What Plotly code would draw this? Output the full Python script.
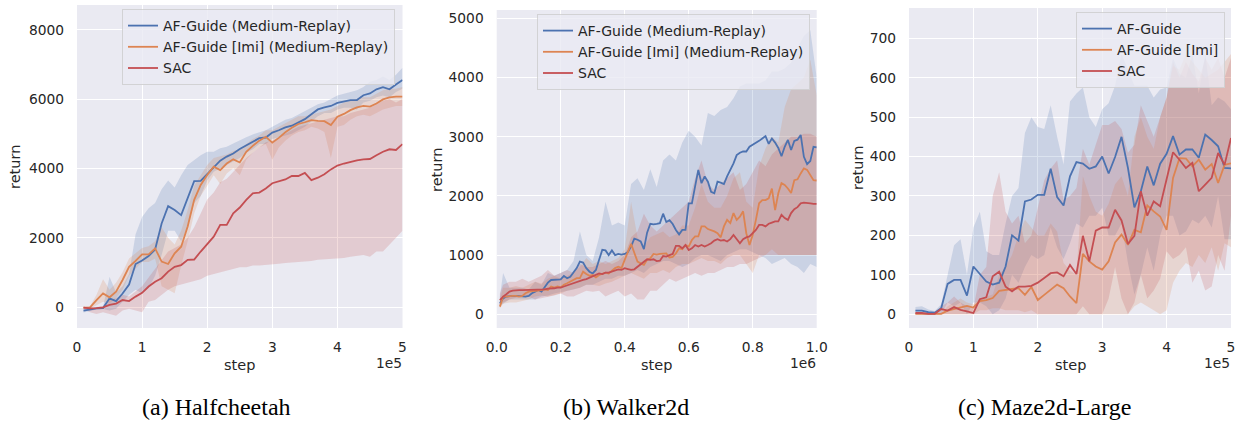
import numpy as np
import plotly.graph_objects as go

W, H = 1235, 421

# ---------------- data ----------------
labels_long = ["AF-Guide (Medium-Replay)", "AF-Guide [Imi] (Medium-Replay)", "SAC"]
labels_short = ["AF-Guide", "AF-Guide [Imi]", "SAC"]

# Halfcheetah: steps 1e4 .. 5e5
hc_x = [1e4 * i for i in range(1, 51)]
hc_blue = [-105, -70, -40, -30, 250, 170, 390, 650, 1240, 1340,
           1470, 1660, 2410, 2910, 2800, 2650, 3130, 3630, 3640, 3840,
           4050, 4220, 4340, 4430, 4560, 4670, 4770, 4870, 4890, 5030,
           5100, 5180, 5230, 5320, 5420, 5560, 5700, 5760, 5800, 5890,
           5940, 5970, 5970, 6110, 6160, 6280, 6340, 6280, 6420, 6550]
hc_orange = [-20, -10, 200, 390, 280, 440, 780, 1160, 1330, 1520,
             1520, 1690, 1310, 1240, 1550, 1740, 2320, 3090, 3520, 3810,
             4050, 3950, 4140, 4260, 4170, 4480, 4650, 4800, 4910, 4740,
             4880, 5040, 5170, 5280, 5330, 5390, 5370, 5360, 5250, 5490,
             5570, 5680, 5760, 5800, 5780, 5870, 5990, 6050, 6070, 6070]
hc_red = [-20, -40, -30, -10, 60, 100, 200, 170, 300, 410,
          590, 730, 830, 1020, 1160, 1210, 1360, 1370, 1600, 1820,
          2030, 2370, 2370, 2700, 2870, 3090, 3280, 3300, 3420, 3570,
          3620, 3680, 3780, 3780, 3870, 3660, 3730, 3830, 3970, 4080,
          4140, 4190, 4230, 4260, 4270, 4380, 4480, 4550, 4530, 4700]
hc_blue_hi = [-50, -40, -10, 0, 870, 420, 600, 950, 2100, 2600,
              2850, 3000, 3400, 3650, 3450, 3800, 4100, 4250, 4380, 4480,
              4480, 4580, 4620, 4720, 4820, 4900, 4980, 5050, 5100, 5200,
              5300, 5400, 5450, 5550, 5650, 5750, 5850, 5900, 6000, 6100,
              6150, 6200, 6250, 6350, 6500, 6550, 6650, 6550, 6700, 6900]
hc_blue_lo = [-160, -110, -70, -60, -100, -50, 150, 350, 500, 400,
              550, 900, 1500, 2200, 2200, 1900, 2300, 3000, 3200, 3650,
              3900, 4000, 4100, 4200, 4300, 4450, 4550, 4700, 4700, 4850,
              4900, 4950, 5000, 5100, 5200, 5350, 5500, 5600, 5600, 5700,
              5750, 5750, 5700, 5900, 5950, 6050, 6100, 6050, 6200, 6300]
hc_orange_hi = [0, 20, 350, 800, 500, 700, 1000, 1400, 1550, 1700,
                1750, 1900, 2300, 2000, 1800, 2200, 2800, 3500, 3800, 4100,
                4300, 4350, 4400, 4500, 4550, 4700, 4850, 4950, 5100, 5100,
                5200, 5300, 5400, 5500, 5500, 5550, 5600, 5650, 5700, 5800,
                5900, 5950, 6000, 6050, 6050, 6150, 6250, 6300, 6300, 6350]
hc_orange_lo = [-40, -40, 50, 150, 100, 250, 500, 900, 1100, 1300,
                1300, 1400, 600, 500, 400, 1200, 1900, 2700, 3200, 3500,
                3800, 3550, 3850, 4000, 3800, 4250, 4450, 4600, 4700, 4250,
                4600, 4800, 4950, 5050, 5100, 5200, 5150, 5050, 4300, 5200,
                5250, 5400, 5500, 5550, 5500, 5600, 5700, 5750, 5800, 5800]
hc_red_hi = [0, -10, 0, 20, 200, 250, 350, 300, 450, 600,
             850, 1100, 1350, 1600, 1700, 1800, 2000, 2300, 2700, 3100,
             3300, 3600, 3700, 3900, 4100, 4300, 4450, 4600, 4750, 4800,
             4900, 5000, 5100, 5200, 5250, 5300, 5350, 5400, 5450, 5500,
             5500, 5600, 5650, 5700, 5750, 5850, 5950, 6000, 5900, 6000]
hc_red_lo = [-60, -150, -200, -150, -200, -250, -100, -50, -100, -150,
             150, 200, 350, 500, 600, 650, 700, 750, 800, 900,
             950, 1000, 1050, 1100, 1150, 1150, 1200, 1200, 1220, 1230,
             1250, 1270, 1280, 1300, 1320, 1330, 1360, 1380, 1400, 1400,
             1410, 1450, 1480, 1500, 1450, 1600, 1600, 1800, 2000, 2200]

# Walker2d: steps 1e4 .. 1e6 (means), band points at 1e4, 2e4, 4e4 ... 1e6
wk_x = [1e4 * i for i in range(1, 101)]
wk_bx = [1e4] + [2e4 * i for i in range(1, 51)]
wk_blue = [185, 270, 300, 310, 310, 310, 305, 305, 300, 310,
           355, 383, 410, 383, 470, 535, 580, 580, 590, 590,
           650, 610, 635, 705, 780, 890, 875, 780, 720, 690,
           750, 920, 1090, 1080, 1000, 1080, 1000, 1020, 1010, 1020,
           1050, 1150, 1280, 1260, 1230, 1100, 1380, 1530, 1520, 1527,
           1540, 1700, 1560, 1590, 1525, 1425, 1350, 1425, 1425, 1875,
           1875, 2160, 2440, 2215, 2330, 2240, 2070, 2045, 2240, 2225,
           2200, 2330, 2440, 2550, 2690, 2730, 2750, 2750, 2830, 2860,
           2890, 2930, 2970, 3010, 2880, 2970, 2900, 2810, 2670, 2830,
           2945, 2775, 2930, 2950, 3030, 2660, 2535, 2590, 2830, 2820]
wk_orange = [130, 300, 300, 310, 310, 310, 300, 310, 355, 383,
             395, 395, 400, 410, 420, 410, 470, 450, 470, 455,
             500, 525, 550, 580, 610, 610, 720, 680, 650, 665,
             625, 665, 690, 705, 690, 740, 780, 805, 780, 920,
             1060, 1190, 1040, 890, 860, 835, 920, 945, 1020, 1010,
             1020, 1030, 1030, 960, 970, 1030, 1115, 1100, 1170, 1145,
             1255, 1315, 1315, 1485, 1485, 1440, 1425, 1400, 1370, 1300,
             1485, 1595, 1540, 1710, 1595, 1650, 1740, 1370, 1170, 1340,
             1595, 1875, 1930, 1930, 1960, 2125, 1760, 2045, 2215, 2185,
             2125, 2050, 2265, 2280, 2380, 2465, 2440, 2355, 2265, 2260]
wk_red = [240, 300, 340, 383, 400, 410, 410, 410, 410, 410,
          410, 420, 420, 420, 420, 435, 435, 440, 450, 450,
          470, 490, 505, 525, 550, 565, 580, 595, 620, 650,
          665, 690, 680, 705, 705, 720, 740, 760, 750, 780,
          765, 750, 760, 805, 850, 890, 930, 920, 930, 900,
          905, 985, 975, 1000, 1020, 1155, 1155, 1115, 1170, 1085,
          1115, 1170, 1145, 1170, 1145, 1170, 1200, 1245, 1270, 1245,
          1255, 1230, 1270, 1340, 1270, 1200, 1270, 1300, 1315, 1370,
          1425, 1510, 1510, 1485, 1530, 1550, 1570, 1570, 1680, 1625,
          1595, 1710, 1775, 1810, 1875, 1885, 1885, 1875, 1865, 1865]
wk_blue_hi = [300, 700, 450, 450, 450, 420, 550, 500, 700, 650,
              700, 750, 900, 1400, 1000, 900, 1300, 1900, 1500, 1550,
              1500, 2200, 2300, 2100, 2450, 2150, 2600, 2700, 2600, 2900,
              3100, 3000, 2850, 3400, 3350, 3450, 3500, 3650, 3850, 3900,
              3900, 3900, 3950, 4100, 4100, 4150, 4250, 4500, 4700, 4800, 4000]
wk_blue_lo = [150, 180, 250, 250, 250, 250, 250, 300, 320, 350,
              380, 400, 420, 450, 500, 500, 550, 600, 600, 650,
              650, 700, 750, 700, 800, 850, 900, 900, 850, 800,
              850, 950, 1000, 1000, 950, 900, 1000, 1050, 1100, 1100,
              1050, 1000, 950, 850, 900, 950, 850, 800, 700, 850, 800]
wk_orange_hi = [250, 450, 450, 480, 450, 500, 550, 520, 600, 650,
                600, 650, 700, 800, 950, 850, 900, 850, 900, 950,
                1100, 1900, 1300, 1150, 1300, 1350, 1400, 1300, 1350, 1500,
                1500, 1800, 2200, 1900, 1800, 1800, 2000, 2300, 2400, 1900,
                1800, 2500, 2800, 3000, 2900, 3500, 3800, 3900, 4000, 4300, 3700]
wk_orange_lo = [100, 180, 200, 200, 220, 250, 300, 320, 300, 320,
                350, 400, 420, 450, 500, 500, 480, 520, 550, 600,
                650, 700, 650, 600, 700, 700, 750, 700, 800, 850,
                850, 900, 950, 900, 900, 850, 950, 1000, 1000, 850,
                700, 1000, 1000, 1100, 1000, 1000, 1000, 1000, 1000, 1000, 1000]
wk_red_hi = [350, 500, 550, 550, 600, 550, 600, 650, 750, 650,
             700, 750, 700, 850, 800, 800, 850, 900, 850, 900,
             1000, 1300, 1400, 1700, 1500, 1400, 1500, 1600, 1700, 1800,
             1900, 2300, 2600, 2200, 2100, 2200, 2300, 2400, 2100, 2200,
             2400, 2600, 2500, 2700, 2800, 2900, 3000, 3000, 3050, 3050, 3000]
wk_red_lo = [150, 200, 250, 280, 300, 300, 250, 280, 300, 320,
             350, 300, 300, 350, 400, 380, 400, 300, 350, 400,
             300, 350, 250, 250, 400, 400, 500, 600, 550, 600,
             650, 700, 650, 700, 700, 750, 800, 800, 850, 850,
             900, 950, 1000, 1000, 1000, 1000, 1000, 1000, 1000, 1000, 1000]

# Maze2d-Large: steps 1e4 .. 5e5
mz_x = [1e4 * i for i in range(1, 51)]
mz_blue = [9, 9, 5, 4, 15, 77, 87, 87, 47, 121,
           102, 83, 75, 80, 121, 200, 187, 286, 291, 303,
           303, 369, 297, 276, 350, 386, 382, 369, 375, 400,
           357, 399, 450, 371, 271, 312, 375, 327, 382, 407,
           452, 405, 418, 418, 397, 456, 442, 426, 371, 370]
mz_orange = [1, 1, 1, 1, 1, 9, 13, 18, 21, 17,
             33, 36, 41, 59, 62, 64, 66, 49, 69, 36,
             49, 62, 75, 66, 45, 28, 153, 134, 121, 113,
             134, 182, 202, 176, 214, 208, 276, 261, 248, 214,
             346, 396, 395, 375, 392, 367, 381, 333, 379, 383]
mz_red = [3, 3, 1, 1, 13, 9, 18, 11, 7, 3,
          38, 43, 96, 108, 70, 58, 70, 70, 72, 80,
          92, 104, 106, 96, 125, 102, 199, 134, 212, 220,
          220, 265, 238, 178, 199, 312, 250, 286, 274, 341,
          411, 392, 371, 384, 312, 329, 346, 409, 379, 447]
mz_blue_hi = [18, 20, 12, 8, 25, 100, 175, 190, 100, 220,
              260, 160, 150, 150, 230, 300, 320, 460, 500, 475,
              470, 530, 450, 380, 540, 560, 575, 500, 475, 520,
              535, 580, 660, 620, 580, 580, 580, 550, 570, 575,
              650, 610, 600, 660, 560, 660, 530, 550, 540, 520]
mz_blue_lo = [0, 0, 0, 0, 0, 30, 20, 30, 0, 30,
              30, 20, 0, 10, 40, 100, 80, 120, 150, 140,
              150, 220, 170, 140, 180, 230, 220, 250, 250, 270,
              200, 200, 230, 130, 50, 100, 170, 110, 200, 250,
              250, 200, 210, 240, 230, 250, 220, 300, 190, 190]
mz_orange_hi = [2, 2, 2, 2, 2, 20, 30, 40, 30, 25,
                40, 45, 50, 100, 120, 150, 200, 240, 220, 200,
                200, 230, 210, 130, 110, 100, 350, 300, 260, 250,
                280, 330, 350, 300, 450, 500, 450, 420, 500, 550,
                630, 620, 660, 640, 620, 600, 610, 620, 640, 660]
mz_orange_lo = [0, 0, 0, 0, 0, 0, 0, 0, 0, 0,
                10, 10, 15, 15, 10, 10, 10, 5, 10, 0,
                0, 0, 0, 0, 0, 0, 0, 0, 0, 0,
                0, 0, 0, 0, 20, 30, 20, 10, 0, 10,
                80, 110, 130, 120, 150, 130, 170, 110, 180, 170]
mz_red_hi = [5, 5, 5, 5, 20, 30, 45, 30, 20, 15,
             100, 120, 300, 360, 260, 230, 250, 180, 200, 270,
             340, 370, 390, 290, 300, 320, 420, 380, 430, 480,
             480, 490, 470, 410, 430, 530, 490, 450, 500, 550,
             640, 600, 640, 610, 590, 650, 620, 650, 600, 650]
mz_red_lo = [0, 0, 0, 0, 0, 0, 0, 0, 0, 0,
             0, 0, 0, 0, 0, 0, 0, 0, 0, 0,
             0, 0, 0, 0, 0, 0, 20, 0, 0, 0,
             40, 120, 40, 0, 30, 100, 40, 60, 90, 160,
             140, 150, 170, 80, 110, 60, 70, 150, 110, 250]

hc_xticks = [0, 1e5, 2e5, 3e5, 4e5, 5e5]
hc_xticktext = ["0", "1", "2", "3", "4", "5"]
wk_xticks = [0, 2e5, 4e5, 6e5, 8e5, 1e6]
wk_xticktext = ["0.0", "0.2", "0.4", "0.6", "0.8", "1.0"]
hc_yticks = [0, 2000, 4000, 6000, 8000]
wk_yticks = [0, 1000, 2000, 3000, 4000, 5000]
mz_yticks = [0, 100, 200, 300, 400, 500, 600, 700]
captions = ["(a) Halfcheetah", "(b) Walker2d", "(c) Maze2d-Large"]

# ---------------- styling ----------------
COLORS = ["#4C72B0", "#DD8452", "#C44E52"]
FILLS = ["rgba(76,114,176,0.2)", "rgba(221,132,82,0.2)", "rgba(196,78,82,0.2)"]
TXT = "#262626"
FONT = "DejaVu Sans"

def fx(p):
    return p / W

def fy(p):
    return 1 - p / H

fig = go.Figure()

panels = [
    dict(x=hc_x, bx=hc_x, means=[hc_blue, hc_orange, hc_red],
         his=[hc_blue_hi, hc_orange_hi, hc_red_hi], los=[hc_blue_lo, hc_orange_lo, hc_red_lo],
         labels=labels_long, px=(77, 402.5), py=(5, 328), yr=(-606, 8713), xr=(0, 5e5),
         xt=hc_xticks, xtt=hc_xticktext, yt=hc_yticks, off="1e5",
         leg=(395, 9), ret=(15, 167), step=(239, 365), cap=216),
    dict(x=wk_x, bx=wk_bx, means=[wk_blue, wk_orange, wk_red],
         his=[wk_blue_hi, wk_orange_hi, wk_red_hi], los=[wk_blue_lo, wk_orange_lo, wk_red_lo],
         labels=labels_long, px=(496.7, 816.7), py=(10, 328), yr=(-231, 5140), xr=(0, 1e6),
         xt=wk_xticks, xtt=wk_xticktext, yt=wk_yticks, off="1e6",
         leg=(810, 14), ret=(437, 170), step=(656, 365), cap=626),
    dict(x=mz_x, bx=mz_x, means=[mz_blue, mz_orange, mz_red],
         his=[mz_blue_hi, mz_orange_hi, mz_red_hi], los=[mz_blue_lo, mz_orange_lo, mz_red_lo],
         labels=labels_short, px=(909, 1231), py=(8, 328), yr=(-35, 777), xr=(0, 5e5),
         xt=hc_xticks, xtt=hc_xticktext, yt=mz_yticks, off="1e5",
         leg=(1225, 12), ret=(858, 168), step=(1070, 365), cap=1044),
]

def ann(text, x, y, size, family=FONT, color=TXT, angle=0, xanchor="center"):
    return dict(text=text, x=fx(x), y=fy(y), xref="paper", yref="paper",
                showarrow=False, textangle=angle, xanchor=xanchor, yanchor="middle",
                font=dict(family=family, size=size, color=color))

annotations = []
layout_axes = {}
for k, p in enumerate(panels):
    sfx = "" if k == 0 else str(k + 1)
    xa, ya = "x" + sfx, "y" + sfx
    legname = "legend" if k == 0 else "legend" + str(k + 1)
    # bands first
    for s in range(3):
        bx = list(p["bx"])
        fig.add_trace(go.Scatter(
            x=bx + bx[::-1], y=list(p["his"][s]) + list(p["los"][s])[::-1],
            fill="toself", fillcolor=FILLS[s], line=dict(width=0),
            mode="lines", hoverinfo="skip", showlegend=False,
            xaxis=xa, yaxis=ya))
    for s in range(3):
        fig.add_trace(go.Scatter(
            x=p["x"], y=p["means"][s], mode="lines",
            line=dict(color=COLORS[s], width=1.8),
            name=p["labels"][s], legend=legname, xaxis=xa, yaxis=ya))
    layout_axes["xaxis" + sfx] = dict(
        domain=[fx(p["px"][0]), fx(p["px"][1])], anchor=ya, range=list(p["xr"]),
        tickvals=p["xt"], ticktext=p["xtt"], showgrid=True, gridcolor="white",
        gridwidth=1.3, zeroline=False, showline=False, ticks="", automargin=False,
        ticklabelstandoff=9, ticklabeloverflow="allow",
        tickfont=dict(family=FONT, size=13.8, color=TXT))
    layout_axes["yaxis" + sfx] = dict(
        domain=[fy(p["py"][1]), fy(p["py"][0])], anchor=xa, range=list(p["yr"]),
        tickvals=p["yt"], showgrid=True, gridcolor="white", gridwidth=1.3,
        zeroline=False, showline=False, ticks="", ticklabelstandoff=12, automargin=False,
        tickfont=dict(family=FONT, size=13.8, color=TXT))
    layout_axes[legname] = dict(
        x=fx(p["leg"][0]), y=fy(p["leg"][1]), xanchor="right", yanchor="top",
        bgcolor="rgba(234,234,242,0.8)", bordercolor="rgba(204,204,204,0.8)",
        borderwidth=1, font=dict(family=FONT, size=14, color=TXT),
        tracegroupgap=0, itemwidth=30)
    annotations.append(ann("return", p["ret"][0], p["ret"][1], 14.5, angle=-90))
    annotations.append(ann("step", p["step"][0], p["step"][1], 14.5))
    annotations.append(ann(p["off"], p["px"][1] + 1, 363, 13.8, xanchor="right"))
    annotations.append(ann(captions[k], p["cap"], 407, 24,
                           family="Liberation Serif", color="black"))

fig.update_layout(
    width=W, height=H, margin=dict(l=0, r=0, t=0, b=0, autoexpand=False),
    paper_bgcolor="white", plot_bgcolor="#EAEAF2",
    annotations=annotations, **layout_axes)

fig.write_html("out.html", config={"displayModeBar": False},
               post_script="document.body.style.margin='0px';document.body.style.overflow='hidden';")
